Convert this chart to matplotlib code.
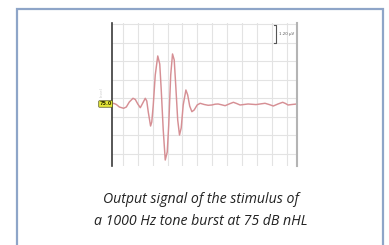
import matplotlib
matplotlib.use("Agg")
import matplotlib.pyplot as plt
from matplotlib.ticker import MultipleLocator
from matplotlib.patches import Rectangle

# Waveform: time (ms) and amplitude (µV)
time_ms = [-0.707, -0.60, -0.42, -0.22, 0.067, 0.247, 0.447, 0.693, 0.847, 1.013,
           1.18, 1.313, 1.513, 1.613, 1.713, 1.867, 1.947, 2.047, 2.18, 2.347,
           2.48, 2.58, 2.713, 2.847, 2.98, 3.08, 3.213, 3.333, 3.447, 3.547,
           3.68, 3.80, 3.913, 4.047, 4.227, 4.347, 4.48, 4.627, 4.78, 4.98,
           5.18, 5.447, 5.713, 5.96, 6.18, 6.38, 6.613, 6.847, 7.113, 7.40,
           7.613, 7.847, 8.113, 8.38, 8.647, 8.913, 9.18, 9.513, 9.78, 10.067,
           10.38, 10.693, 10.88, 11.053, 11.32, 11.65]
amp_uv = [0.0, 0.045, -0.032, -0.195, -0.279, -0.195, 0.130, 0.370, 0.292, 0.0,
          -0.240, 0.0, 0.370, 0.195, -0.519, -1.427, -1.167, -0.065, 1.881, 3.113,
          2.594, 0.908, -1.686, -3.632, -3.113, -1.362, 1.881, 3.243, 2.854, 1.232,
          -1.038, -2.011, -1.557, -0.065, 0.908, 0.584, -0.130, -0.499, -0.389, -0.065,
          0.045, -0.032, -0.084, -0.065, -0.013, 0.0, -0.052, -0.110, 0.0, 0.110,
          0.032, -0.065, -0.032, 0.0, -0.019, -0.039, 0.0, 0.045, -0.032, -0.130,
          0.0, 0.110, 0.032, -0.065, -0.032, 0.0]

scale_label = "1.20 µV"
scale_value = 1.2
level_label = "75.0"
caption_lines = ["Output signal of the stimulus of", "a 1000 Hz tone burst at 75 dB nHL"]

W, H = 389, 245
fig = plt.figure(figsize=(W / 100, H / 100), dpi=100)
fig.patch.set_facecolor("white")

# outer frame
fig.patches.append(Rectangle((17 / W, -0.1), (383 - 17) / W, 1.1 - 9 / H,
                             transform=fig.transFigure, fill=False,
                             edgecolor="#8ea5c8", linewidth=1.6))

# plot area: x 112..297 px, y 23..166 px
ax = fig.add_axes([112 / W, 1 - 166 / H, (297 - 112) / W, (166 - 23) / H])
ax.set_xlim(-0.71, 11.65)
ax.set_ylim(-4.02, 5.25)
ax.xaxis.set_major_locator(MultipleLocator(1.0))
ax.yaxis.set_major_locator(MultipleLocator(1.2, offset=0.36))
ax.grid(True, color="#e3e3e3", linewidth=0.8)
ax.tick_params(length=0, labelbottom=False, labelleft=False)
for s in ["top", "bottom"]:
    ax.spines[s].set_visible(False)
ax.spines["left"].set_color("#3a3a3a")
ax.spines["left"].set_linewidth(1.2)
ax.spines["right"].set_color("#b4b4b4")
ax.spines["right"].set_linewidth(1.5)
ax.set_axisbelow(True)

ax.plot(time_ms, amp_uv, color="#d68f94", linewidth=1.05, solid_joinstyle="round")

# scale bar
sb_x = 10.25
sb_top = 5.15
ax.plot([sb_x - 0.12, sb_x, sb_x, sb_x - 0.12],
        [sb_top, sb_top, sb_top - scale_value, sb_top - scale_value],
        color="#555555", linewidth=0.8, clip_on=False)
ax.text(sb_x + 0.2, sb_top - scale_value / 2, scale_label, fontsize=2.8,
        color="#555555", va="center", ha="left")

# level marker at baseline
ax.annotate(level_label, xy=(time_ms[0], amp_uv[0]), xycoords="data",
            xytext=(-4.6, 0), textcoords="offset points",
            fontsize=3.6, fontweight="bold", color="#333300", ha="center", va="center",
            bbox=dict(boxstyle="round,pad=0.15", fc="#e6e83a", ec="#555522", lw=0.5),
            annotation_clip=False)

# faint vertical label above marker
fig.text(102 / W, 1 - 92 / H, "level", fontsize=3, color="#cccccc",
         rotation=90, ha="center", va="center")

# caption
for i, line in enumerate(caption_lines):
    fig.text(201 / W, 1 - (199.5 + i * 22) / H, line, fontsize=10.2, style="italic",
             family="Open Sans", color="#222222", ha="center", va="center")

fig.savefig("out.png", dpi=100)
